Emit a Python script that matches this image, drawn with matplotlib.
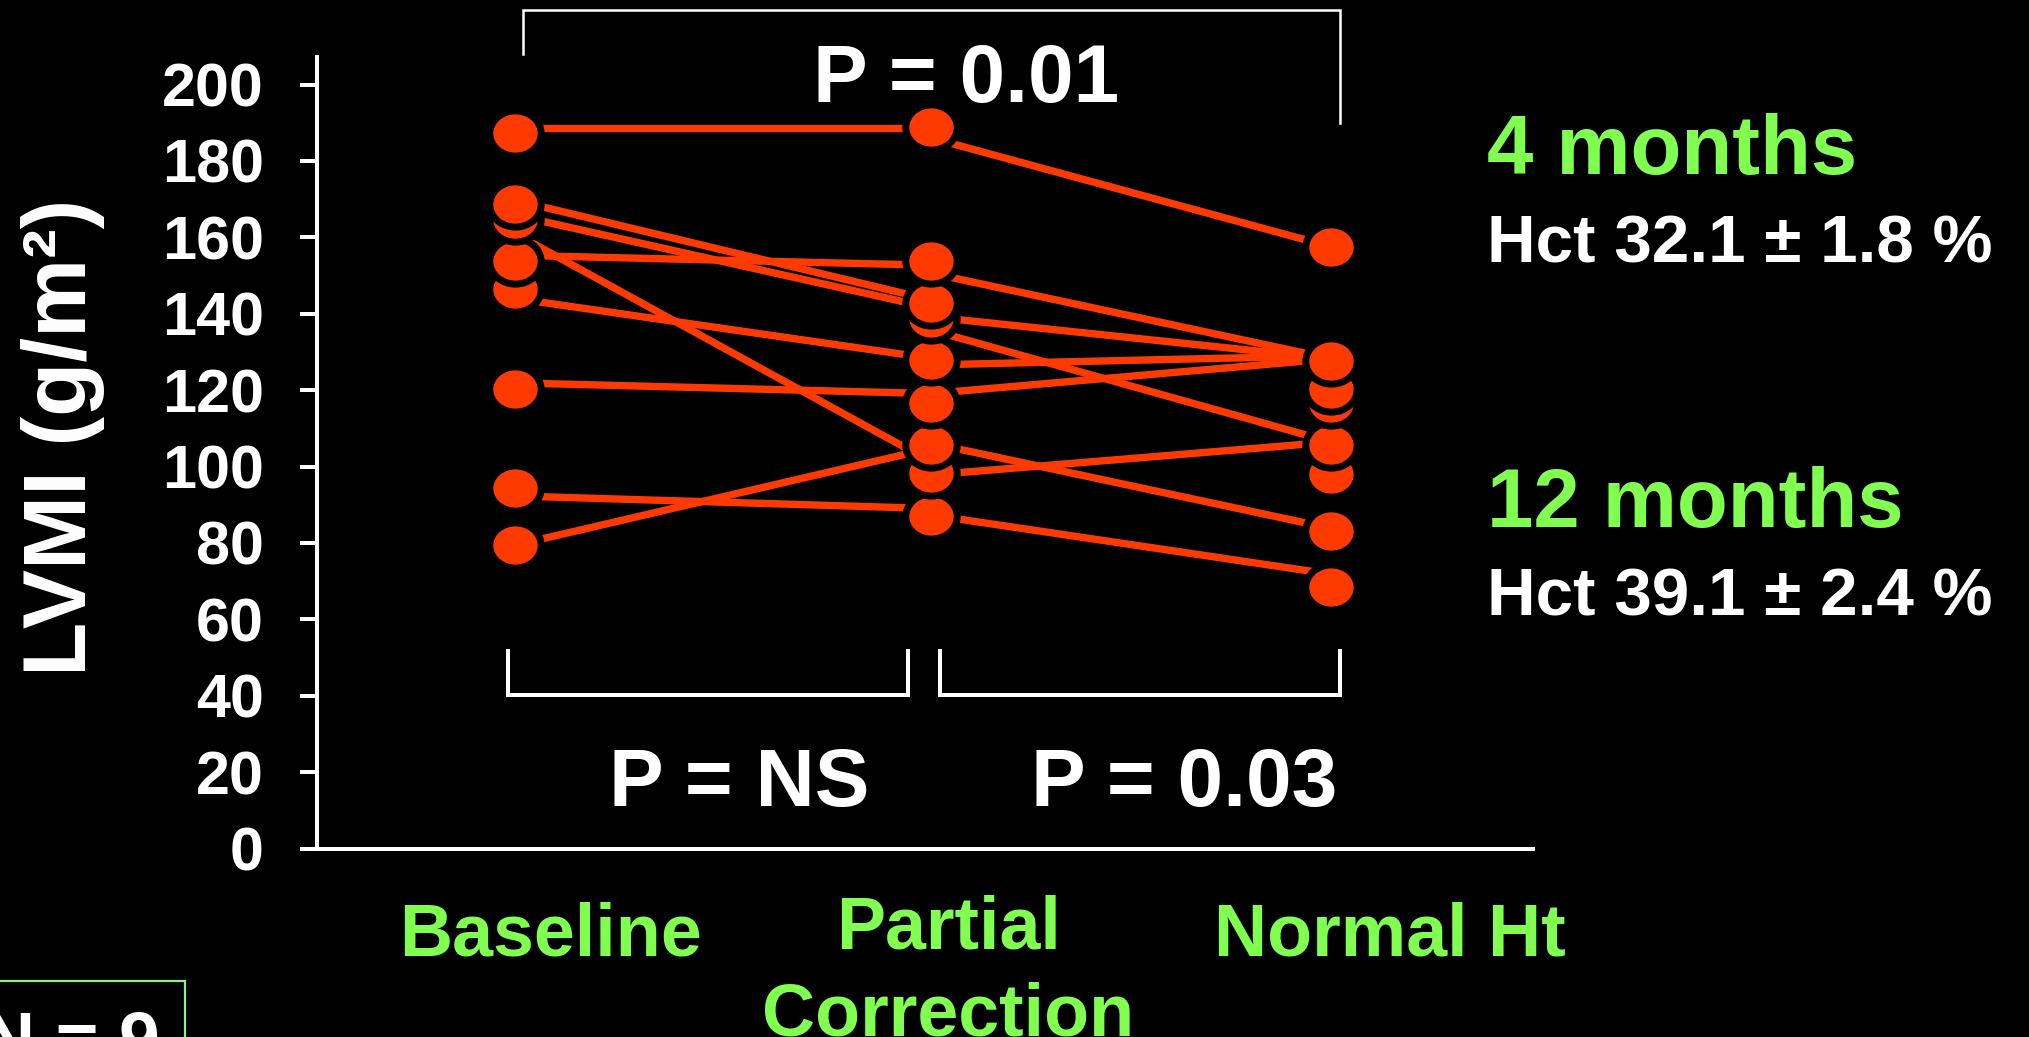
import matplotlib
matplotlib.use("Agg")
import matplotlib.pyplot as plt
from matplotlib.path import Path
from matplotlib.transforms import Affine2D, blended_transform_factory
from matplotlib.patches import Rectangle

# groups on the x axis
groups = ["Baseline", "Partial\nCorrection", "Normal Ht"]
xpos = [0, 1.02, 2]
label_x = [0.086, 1.061, 2.144]  # labels sit a little right of the dot columns

# dots (LVMI, g/m2)
baseline_dots = [187.2, 168.6, 164.8, 153.8, 146.4, 120.4, 94.3, 79.4]
partial_dots = [188.9, 153.8, 142.7, 138.9, 127.9, 116.7, 105.6, 98.2, 87.0]
normal_dots = [157.5, 127.7, 120.2, 116.7, 105.6, 98.0, 83.1, 68.4]

# connecting lines, one entry per patient
line_baseline = [188.5, 169.7, 165.8, 161.0, 155.3, 144.0, 121.9, 92.3, 79.4]
line_partial_in = [188.5, 143.6, 141.5, 101.2, 152.7, 128.3, 119.1, 89.0, 104.8]
line_partial_out = [186.0, 139.2, 135.7, 97.8, 150.6, 126.6, 119.1, 87.3, 106.1]
line_normal = [157.5, 128.2, 106.4, 106.4, 128.2, 129.0, 128.2, 71.8, 83.8]

yticks = list(range(0, 201, 20))

W, H = 2029, 1037
red = "#FF3A00"
green = "#80FF50"
font = "Liberation Sans"


def px(x, y):
    # pixel position in the picture -> figure fraction
    return x / W, 1 - y / H


fig = plt.figure(figsize=(W / 100, H / 100), dpi=100, facecolor="black")
ax = fig.add_axes([316.7 / W, 1 - 848.5 / H, (1533 - 316.7) / W, (848.5 - 57.4) / H])
ax.set_facecolor("black")

# lines behind the dots
for i in range(len(line_baseline)):
    ax.plot([xpos[0], xpos[1]], [line_baseline[i], line_partial_in[i]], color=red, lw=5.3, zorder=2,
            solid_capstyle="butt")
    ax.plot([xpos[1], xpos[2]], [line_partial_out[i], line_normal[i]], color=red, lw=5.3, zorder=2,
            solid_capstyle="butt")

# slightly flattened dots with a black rim, higher values drawn on top
dot = Path.unit_circle().transformed(Affine2D().scale(1, 0.88))
for k, vals in enumerate([baseline_dots, partial_dots, normal_dots]):
    for v in sorted(vals):
        ax.plot(xpos[k], v, marker=dot, ms=37, mfc=red, mec="black", mew=5, ls="none", zorder=3)

ax.set_xlim(-0.4858, 2.494)
ax.set_ylim(0, 207.1)
ax.set_yticks(yticks)
ax.set_yticklabels([str(t) for t in yticks], fontsize=44, fontweight="bold", color="white",
                   family=font)
ax.set_xticks([])
ax.tick_params(axis="y", direction="out", length=12, width=2.9, color="white", pad=26)
for s in ["top", "right"]:
    ax.spines[s].set_visible(False)
for s in ["left", "bottom"]:
    ax.spines[s].set_color("white")
    ax.spines[s].set_linewidth(2.9)

# group labels under the axis (baseline of the last line)
tr = blended_transform_factory(ax.transData, fig.transFigure)
label_base = [955, 1035, 955]
for k, g in enumerate(groups):
    ax.text(label_x[k], 1 - label_base[k] / H, g, transform=tr, ha="center", va="baseline",
            fontsize=53, fontweight="bold", color=green, family=font, linespacing=1.33,
            clip_on=False)

# y axis title
fig.text(*px(63, 437), "LVMI (g/m²)", rotation=90, ha="center", va="center",
         fontsize=64, fontweight="bold", color="white", family=font)

# significance brackets
ax.plot([0.02, 0.02, 2.02, 2.02], [208.1, 219.5, 219.5, 189.9], color="white", lw=1.8,
        clip_on=False, solid_joinstyle="miter")
ax.plot([-0.016, -0.016, 0.964, 0.964], [51.6, 40.3, 40.3, 51.6], color="white", lw=2.9,
        clip_on=False, solid_joinstyle="miter")
ax.plot([1.04, 1.04, 2.02, 2.02], [51.6, 40.3, 40.3, 51.6], color="white", lw=2.9,
        clip_on=False, solid_joinstyle="miter")

fig.text(*px(966, 102), "P = 0.01", ha="center", va="baseline", fontsize=59,
         fontweight="bold", color="white", family=font)
fig.text(*px(739, 806), "P = NS", ha="center", va="baseline", fontsize=59,
         fontweight="bold", color="white", family=font)
fig.text(*px(1184, 806), "P = 0.03", ha="center", va="baseline", fontsize=59,
         fontweight="bold", color="white", family=font)

# follow-up notes on the right
fig.text(*px(1487, 174), "4 months", ha="left", va="baseline", fontsize=60,
         fontweight="bold", color=green, family=font)
fig.text(*px(1487, 263), "Hct 32.1 ± 1.8 %", ha="left", va="baseline", fontsize=48.5,
         fontweight="bold", color="white", family=font)
fig.text(*px(1487, 527), "12 months", ha="left", va="baseline", fontsize=60,
         fontweight="bold", color=green, family=font)
fig.text(*px(1487, 615), "Hct 39.1 ± 2.4 %", ha="left", va="baseline", fontsize=48.5,
         fontweight="bold", color="white", family=font)

# sample size box, cut off at the bottom edge as in the slide
x0, y0 = px(-10, 1100)
x1, y1 = px(185, 981)
fig.patches.append(Rectangle((x0, y0), x1 - x0, y1 - y0, transform=fig.transFigure,
                             fill=False, edgecolor="#90EE90", lw=1.6))
fig.text(*px(-18, 1063), "N = 9", ha="left", va="baseline", fontsize=53,
         fontweight="bold", color="white", family=font)

fig.savefig("out.png", dpi=100, facecolor="black")
